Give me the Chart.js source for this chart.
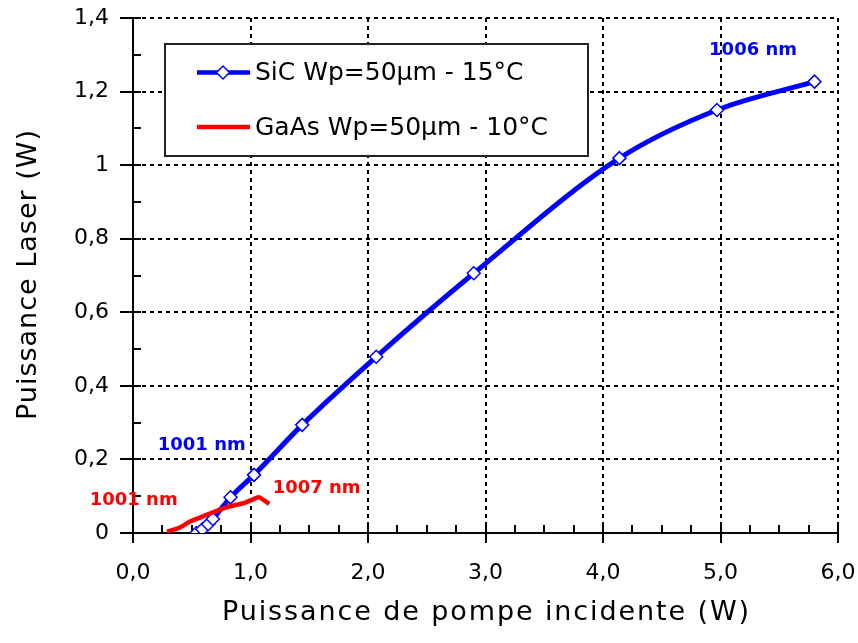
<!DOCTYPE html>
<html><head><meta charset="utf-8">
<script src="https://cdn.jsdelivr.net/npm/chart.js@4.4.0/dist/chart.umd.min.js"></script>
<style>html,body{margin:0;padding:0;background:#fff}#wrap{width:858px;height:643px}</style>
</head><body><div id="wrap"><canvas id="c" width="858" height="643"></canvas></div>
<script>
// ---- data ----
const sicX = [0.54, 0.59, 0.64, 0.68, 0.83, 1.03, 1.44, 2.07, 2.90, 4.14, 4.97, 5.80];
const sicY = [0.000, 0.010, 0.024, 0.038, 0.097, 0.158, 0.294, 0.479, 0.706, 1.019, 1.150, 1.227];
const gaasX = [0.29, 0.40, 0.485, 0.57, 0.67, 0.77, 0.87, 0.95, 1.01, 1.07, 1.11, 1.16];
const gaasY = [0.004, 0.015, 0.031, 0.042, 0.055, 0.067, 0.076, 0.082, 0.090, 0.097, 0.090, 0.079];
const xTicks = [0, 1, 2, 3, 4, 5, 6];
const yTicks = [0, 0.2, 0.4, 0.6, 0.8, 1, 1.2, 1.4];
const seriesLabels = ['SiC Wp=50µm - 15°C', 'GaAs Wp=50µm - 10°C'];
const xTitle = 'Puissance de pompe incidente (W)';
const yTitle = 'Puissance Laser (W)';
const noteText = ['1001 nm', '1001 nm', '1007 nm', '1006 nm'];
const noteX = [0.585, 0.006, 1.563, 5.277];
const noteY = [0.239, 0.090, 0.122, 1.313];
const noteSeries = [0, 1, 1, 0];
const xMinorStep = 0.25;
const yMinorStep = 0.1;

const BLUE = '#0000FF', RED = '#FF0000';
const seriesColors = [BLUE, RED];

function fmtY(v){ const r = Math.round(v*10)/10; return String(r).replace('.', ','); }
function fmtX(v){ return (Math.round(v*10)/10).toFixed(1).replace('.', ','); }

const extras = {
  id: 'extras',
  beforeDatasetsDraw(chart){
    const ctx = chart.ctx, xs = chart.scales.x, ys = chart.scales.y;
    const a = chart.chartArea;
    ctx.save();
    ctx.strokeStyle = '#000'; ctx.lineWidth = 2; ctx.setLineDash([]);
    for (let v = 0; v <= ys.max + 1e-9; v += yMinorStep){
      const py = Math.round(ys.getPixelForValue(v));
      ctx.beginPath(); ctx.moveTo(a.left, py); ctx.lineTo(a.left + 8, py); ctx.stroke();
    }
    for (let v = 0; v <= xs.max + 1e-9; v += xMinorStep){
      const px = Math.round(xs.getPixelForValue(v));
      ctx.beginPath(); ctx.moveTo(px, a.bottom); ctx.lineTo(px, a.bottom - 8); ctx.stroke();
    }
    // legend box
    const bx = a.left + 32, by = a.top + 26, bw = 423, bh = 112;
    ctx.fillStyle = '#fff';
    ctx.fillRect(bx, by, bw, bh);
    ctx.lineWidth = 2; ctx.strokeStyle = '#222';
    ctx.strokeRect(bx, by, bw, bh);
    const rows = [by + 28.5, by + 83];
    ctx.font = '25px "DejaVu Sans"';
    ctx.textBaseline = 'middle'; ctx.textAlign = 'left';
    chart.data.datasets.forEach((ds, i) => {
      const yy = rows[i];
      ctx.strokeStyle = ds.borderColor; ctx.lineWidth = 4.5;
      ctx.beginPath(); ctx.moveTo(bx + 32, yy); ctx.lineTo(bx + 85, yy); ctx.stroke();
      if (ds.pointRadius > 0){
        const cx = bx + 58, r = 6.5;
        ctx.beginPath();
        ctx.moveTo(cx, yy - r); ctx.lineTo(cx + r, yy); ctx.lineTo(cx, yy + r); ctx.lineTo(cx - r, yy); ctx.closePath();
        ctx.fillStyle = '#fff'; ctx.fill();
        ctx.lineWidth = 1.5; ctx.strokeStyle = ds.borderColor; ctx.stroke();
      }
      ctx.fillStyle = '#000';
      ctx.fillText(ds.label, bx + 90, yy + 1);
    });
    ctx.restore();
  },
  afterDraw(chart){
    const ctx = chart.ctx, xs = chart.scales.x, ys = chart.scales.y;
    const a = chart.chartArea;
    ctx.save();
    ctx.font = 'bold 18px "DejaVu Sans"';
    ctx.textAlign = 'center'; ctx.textBaseline = 'middle';
    noteText.forEach((t, i) => {
      ctx.fillStyle = seriesColors[noteSeries[i]];
      ctx.fillText(t, xs.getPixelForValue(noteX[i]), ys.getPixelForValue(noteY[i]));
    });
    ctx.fillStyle = '#000';
    ctx.font = '27px "DejaVu Sans"';
    ctx.letterSpacing = '1.9px';
    ctx.textAlign = 'center'; ctx.textBaseline = 'alphabetic';
    ctx.fillText(xTitle, (a.left + a.right) / 2 + 1, 620);
    ctx.letterSpacing = '1px';
    ctx.translate(36, (a.top + a.bottom) / 2 - 1);
    ctx.rotate(-Math.PI / 2);
    ctx.fillText(yTitle, 0, 0);
    ctx.restore();
  }
};

const gridCommon = {
  color: '#000', lineWidth: 2, drawTicks: true,
  tickColor: '#000', tickWidth: 2, tickBorderDash: []
};

new Chart(document.getElementById('c'), {
  type: 'line',
  data: {
    datasets: [
      {
        label: seriesLabels[0],
        data: sicX.map((x, i) => ({x, y: sicY[i]})),
        borderColor: BLUE, borderWidth: 5,
        cubicInterpolationMode: 'monotone',
        pointStyle: 'rectRot', pointRadius: 6.5, pointBackgroundColor: '#fff',
        pointBorderColor: BLUE, pointBorderWidth: 1.5,
        order: 1
      },
      {
        label: seriesLabels[1],
        data: gaasX.map((x, i) => ({x, y: gaasY[i]})),
        borderColor: RED, borderWidth: 4.5,
        cubicInterpolationMode: 'monotone',
        pointRadius: 0,
        order: 0
      }
    ]
  },
  options: {
    responsive: false, animation: false, devicePixelRatio: 1,
    layout: { padding: { left: 0, right: 20, top: 18, bottom: 0 } },
    plugins: { legend: { display: false }, tooltip: { enabled: false } },
    scales: {
      x: {
        type: 'linear', min: 0, max: 6,
        afterBuildTicks: s => { s.ticks = xTicks.map(v => ({value: v})); },
        afterFit: s => { s.height = 110; s.paddingLeft = 0; s.paddingRight = 0; },
        grid: Object.assign({}, gridCommon, { tickLength: 10 }),
        border: { display: true, color: '#000', width: 2, dash: [4, 4] },
        ticks: { color: '#000', font: { family: 'DejaVu Sans', size: 22 }, padding: 17, maxRotation: 0,
                 callback: v => fmtX(v) },
        title: { display: false }
      },
      y: {
        type: 'linear', min: 0, max: 1.4,
        afterBuildTicks: s => { s.ticks = yTicks.map(v => ({value: v})); },
        afterFit: s => { s.width = 133; s.paddingTop = 0; s.paddingBottom = 0; },
        grid: Object.assign({}, gridCommon, { tickLength: 13 }),
        border: { display: true, color: '#000', width: 2, dash: [4, 4] },
        ticks: { color: '#000', font: { family: 'DejaVu Sans', size: 22 }, padding: 11,
                 callback: v => fmtY(v) },
        title: { display: false }
      }
    }
  },
  plugins: [extras]
});
</script>
</body></html>
